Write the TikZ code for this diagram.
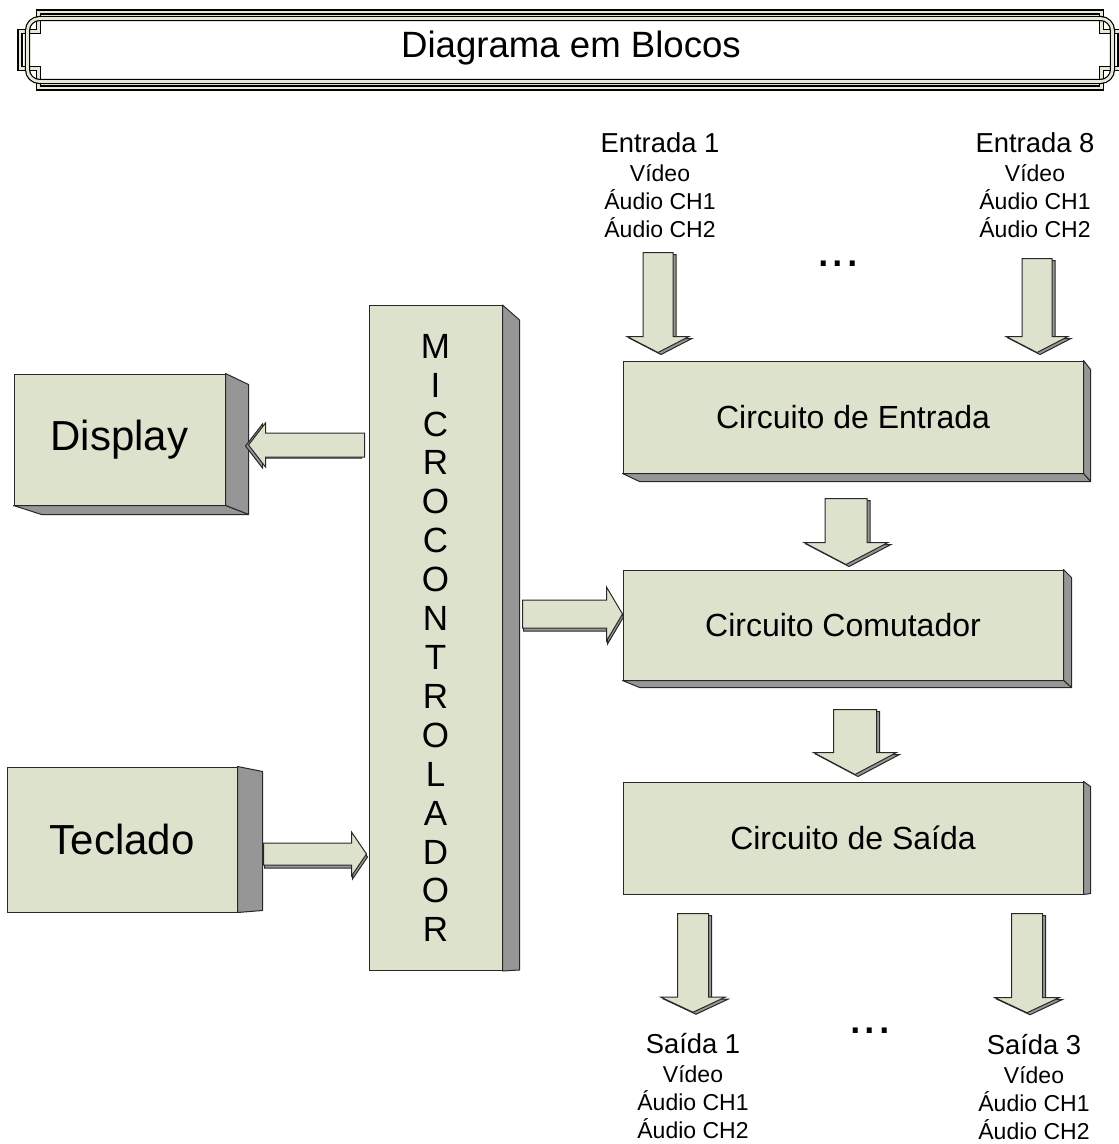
\documentclass[tikz,border=0pt]{standalone}
\usepackage{fontspec}
\setmainfont{Liberation Sans}
\usetikzlibrary{calc,shadows}
\definecolor{sage}{RGB}{221,226,204}
\definecolor{sidegray}{RGB}{150,150,150}
\definecolor{outline}{RGB}{40,40,40}
\definecolor{cream}{RGB}{232,232,214}

\begin{document}
\begin{tikzpicture}[
  x=0.5pt, y=-0.5pt,
  block/.style={draw=outline, fill=sage, line width=0.5pt, inner sep=0pt, align=center},
  side/.style={draw=outline, fill=sidegray, line width=0.5pt, line join=round},
  rim/.style={draw=black, line width=0.6pt, double=cream, double distance=1.4pt},
  lbl/.style={align=center, font=\fontsize{11.5}{14}\selectfont},
  dots/.style={font=\fontsize{26}{26}\selectfont, inner sep=0pt},
  barrow/.style args={#1/#2/#3}{draw=outline, fill=sage, line width=0.5pt,
    to path={
      ($(\tikztostart)!#1!90:(\tikztotarget)$)
      -- ($(\tikztotarget)!#3!(\tikztostart)!#1!90:(\tikztotarget)$)
      -- ($(\tikztotarget)!#3!(\tikztostart)!#2!90:(\tikztotarget)$)
      -- (\tikztotarget)
      -- ($(\tikztotarget)!#3!(\tikztostart)!#2!-90:(\tikztotarget)$)
      -- ($(\tikztotarget)!#3!(\tikztostart)!#1!-90:(\tikztotarget)$)
      -- ($(\tikztostart)!#1!-90:(\tikztotarget)$) -- cycle}},
  downshadow/.style={general shadow={shadow xshift=1.5pt, shadow yshift=-1pt, fill=sidegray, draw=outline, line width=0.5pt}},
  rightshadow/.style={general shadow={shadow xshift=0.5pt, shadow yshift=-1.5pt, fill=sidegray, draw=outline, line width=0.5pt}},
  leftshadow/.style={general shadow={shadow xshift=-1.5pt, shadow yshift=-0.5pt, fill=sidegray, draw=outline, line width=0.5pt}},
]
\useasboundingbox (0,0) rectangle (1118,1144);

% title banner
\draw[rim] (38.5,12) -- (1101.5,12) -- (1101.5,31.5) -- (1120,31.5) -- (1120,68.5) -- (1101.5,68.5)
  -- (1101.5,88) -- (38.5,88) -- (38.5,68.5) -- (20,68.5) -- (20,31.5) -- (38.5,31.5) -- cycle;
\draw[rim, rounded corners=6pt] (27.5,18.5) rectangle (1112.5,81.5);
\node[font=\fontsize{18.3}{20}\selectfont] (title) at (571,48) {Diagrama em Blocos};

% blocks
\node[block, minimum width=105.5pt, minimum height=65.5pt, font=\fontsize{21}{24}\selectfont] (disp) at (119.5,439.5) {Display};
\node[block, minimum width=115pt, minimum height=72.5pt, font=\fontsize{21}{24}\selectfont] (kbd) at (122,839.5) {Teclado};
\node[block, minimum width=66.5pt, minimum height=332.5pt, font=\fontsize{17.5}{19.45}\selectfont] (mcu) at (435.5,638)
  {M\\I\\C\\R\\O\\C\\O\\N\\T\\R\\O\\L\\A\\D\\O\\R};
\node[block, minimum width=230pt, minimum height=56pt, font=\fontsize{16}{18}\selectfont] (cin) at (853,417) {Circuito de Entrada};
\node[block, minimum width=220pt, minimum height=55pt, font=\fontsize{16}{18}\selectfont] (csw) at (843,625) {Circuito Comutador};
\node[block, minimum width=230pt, minimum height=56pt, font=\fontsize{16}{18}\selectfont] (cout) at (853,838) {Circuito de Saída};

% depth faces
\draw[side] (disp.north east) -- ++(23,11) -- ($(disp.south east)+(23,9)$) -- (disp.south east) -- cycle;
\draw[side] (disp.south west) -- ++(28,9) -- ($(disp.south east)+(23,9)$) -- (disp.south east) -- cycle;
\draw[side] (kbd.north east) -- ++(25,5) -- ($(kbd.south east)+(25,-2)$) -- (kbd.south east) -- cycle;
\draw[side] (mcu.north east) -- ++(17,15) -- ($(mcu.south east)+(17,-1)$) -- (mcu.south east) -- cycle;
\draw[side] (cin.north east) -- ++(7,9) -- ($(cin.south east)+(7,8)$) -- (cin.south east) -- cycle;
\draw[side] (cin.south west) -- ++(17,8) -- ($(cin.south east)+(7,8)$) -- (cin.south east) -- cycle;
\draw[side] (csw.north east) -- ++(8,8) -- ($(csw.south east)+(8,7)$) -- (csw.south east) -- cycle;
\draw[side] (csw.south west) -- ++(17,7) -- ($(csw.south east)+(8,7)$) -- (csw.south east) -- cycle;
\draw[side] (cout.north east) -- ++(7,5) -- ($(cout.south east)+(7,-1)$) -- (cout.south east) -- cycle;

% inputs and outputs
\node[lbl] (in1) at (660,185) {{\fontsize{13.7}{16}\selectfont Entrada 1}\\[0.5pt] Vídeo\\ Áudio CH1\\ Áudio CH2};
\node[lbl] (in8) at (1035,185) {{\fontsize{13.7}{16}\selectfont Entrada 8}\\[0.5pt] Vídeo\\ Áudio CH1\\ Áudio CH2};
\node[lbl] (out1) at (693,1086) {{\fontsize{13.7}{16}\selectfont Saída 1}\\[0.5pt] Vídeo\\ Áudio CH1\\ Áudio CH2};
\node[lbl] (out3) at (1034,1087.5) {{\fontsize{13.7}{16}\selectfont Saída 3}\\[0.5pt] Vídeo\\ Áudio CH1\\ Áudio CH2};
\node[dots] (gap1) at (838,264) {...};
\node[dots] (gap2) at (870,1031) {...};

% block arrows
\draw[barrow={7.5pt/15.5pt/8pt}, downshadow] ($(in1.south)+(-2,8)$) to ($(in1.south |- cin.north)+(-2,-8)$);
\draw[barrow={7.5pt/15.5pt/8pt}, downshadow] ($(in8.south)+(2,14)$) to ($(in8.south |- cin.north)+(2,-8)$);
\draw[barrow={10.5pt/21pt/11pt}, downshadow] ($(cin.south)+(-7,25)$) to ($(csw.north)+(3,-5)$);
\draw[barrow={10.75pt/20.75pt/11pt}, downshadow] ($(csw.south)+(12,29)$) to ($(cout.north)+(2,-7)$);
\draw[barrow={7.75pt/16pt/7.5pt}, downshadow] ($(cout.south -| out1.north)+(0,19)$) to ($(out1.north)+(0,-14)$);
\draw[barrow={7.75pt/16pt/7.5pt}, downshadow] ($(cout.south -| out3.north)+(-7,19)$) to ($(out3.north)+(-7,-15)$);
\draw[barrow={6pt/11pt/8.5pt}, leftshadow] ($(mcu.west |- disp.east)+(-4,5.5)$) to ($(disp.east)+(23,5.5)$);
\draw[barrow={5.5pt/11pt/7.5pt}, rightshadow] ($(kbd.east)+(26,14.5)$) to ($(mcu.west |- kbd.east)+(-2,14.5)$);
\draw[barrow={7pt/13.5pt/8pt}, rightshadow] ($(mcu.east |- csw.west)+(20,-11)$) to ($(csw.west)+(0,-11)$);
\end{tikzpicture}
\end{document}
